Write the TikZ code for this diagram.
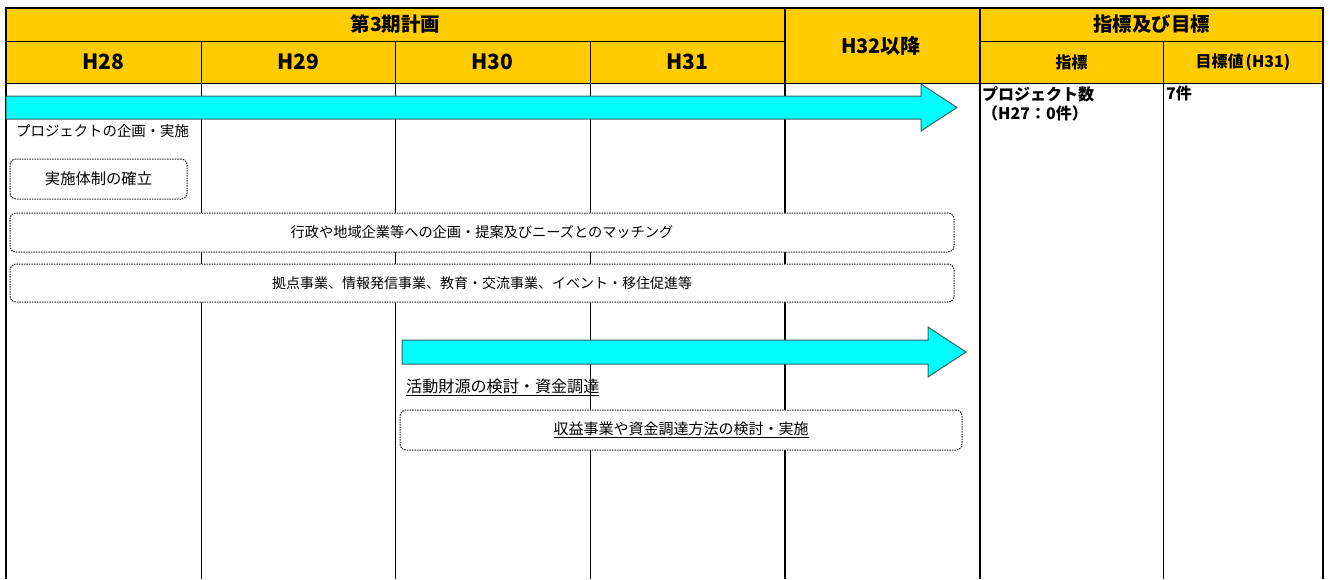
\documentclass[tikz,border=0pt]{standalone}
\usepackage{fontspec}
\setmainfont{Noto Sans CJK JP}
\definecolor{hdr}{RGB}{255,204,0}
\definecolor{arrowfill}{RGB}{0,255,255}
\definecolor{arrowline}{RGB}{60,95,95}
\begin{document}
\begin{tikzpicture}[x=1pt,y=-1pt,
  thingrid/.style={line width=1pt,black},
  thickgrid/.style={line width=2pt,black},
  hdrbig/.style={font=\bfseries\fontsize{19.5}{21}\selectfont,inner sep=0pt},
  hdryear/.style={font=\bfseries\fontsize{21}{22}\selectfont,inner sep=0pt},
  hdrsmall/.style={font=\bfseries\fontsize{16}{18}\selectfont,inner sep=0pt},
  bodytext/.style={font=\fontsize{14.4}{17}\selectfont,inner sep=0pt},
  valtext/.style={font=\bfseries\fontsize{16}{19}\selectfont,inner sep=0pt,align=left},
  dotbox/.style={draw=black!85,line width=1pt,dash pattern=on 1.5pt off 1pt,
    rounded corners=6pt,fill=white,inner sep=0pt,font=\fontsize{14.2}{16}\selectfont},
  bigarrow/.style={fill=arrowfill,draw=arrowline,line width=1pt,line join=miter}
]
\useasboundingbox (0,0) rectangle (1330,579);
% header background
\fill[hdr] (6,8) rectangle (1323,83);
% grid
\draw[thingrid] (6,41) -- (785,41);
\draw[thingrid] (980,41) -- (1323,41);
\draw[thingrid] (6,83) -- (1323,83);
\draw[line width=1.5pt] (6,8) -- (6,579);
\draw[thingrid] (201,41) -- (201,579);
\draw[thingrid] (395,41) -- (395,579);
\draw[thingrid] (590,41) -- (590,579);
\draw[thickgrid] (785,8) -- (785,579);
\draw[thickgrid] (980,8) -- (980,579);
\draw[thingrid] (1163,41) -- (1163,579);
\draw[thickgrid] (1323,8) -- (1323,579);
\draw[thickgrid] (5,8) -- (1324,8);
% header texts
\node[hdrbig] (plan) at (395.5,24) {第3期計画};
\node[hdryear] (h28) at (103.5,62) {H28};
\node[hdryear] (h29) at (298,62) {H29};
\node[hdryear] (h30) at (492.5,62) {H30};
\node[hdryear] (h31) at (687.5,62) {H31};
\node[hdryear,font=\bfseries\fontsize{20}{22}\selectfont] (h32) at (881,46) {H32以降};
\node[hdrbig] (goal) at (1151.5,24) {指標及び目標};
\node[hdrsmall] (ind) at (1071.5,62) {指標};
\node[hdrsmall] (tgt) at (1243,62) {目標値\kern2pt(H31)};
% arrows
\draw[bigarrow] (6,96) -- (921,96) -- (921,84) -- (957,107.5) -- (921,131) -- (921,119) -- (6,119) -- cycle;
\draw[bigarrow] (402,340) -- (928,340) -- (928,327) -- (966,352) -- (928,377) -- (928,364) -- (402,364) -- cycle;
% body texts
\node[bodytext,anchor=west] (proj) at (16,131) {プロジェクトの企画・実施};
\node[dotbox,minimum width=177pt,minimum height=40pt,font=\fontsize{15.3}{17}\selectfont] (b1) at (98.5,179) {実施体制の確立};
\node[dotbox,minimum width=944pt,minimum height=39pt] (b2) at (482,232.5) {行政や地域企業等への企画・提案及びニーズとのマッチング};
\node[dotbox,minimum width=944pt,minimum height=38pt,font=\fontsize{14}{16}\selectfont] (b3) at (482,283) {拠点事業、情報発信事業、教育・交流事業、イベント・移住促進等};
\node[bodytext,anchor=west,font=\fontsize{16.1}{18}\selectfont] (fund) at (406,387) {\underline{活動財源の検討・資金調達}};
\node[dotbox,minimum width=562pt,minimum height=40pt,font=\fontsize{15}{17}\selectfont] (b4) at (681,430) {\underline{収益事業や資金調達方法の検討・実施}};
% indicator values
\node[valtext,anchor=north west] (pn) at (982,86) {プロジェクト数\\（H27：0件）};
\node[valtext,anchor=north west] (pv) at (1166,86) {7件};
\end{tikzpicture}
\end{document}
